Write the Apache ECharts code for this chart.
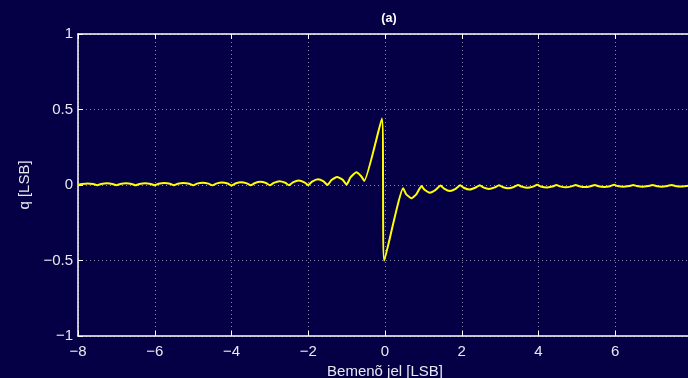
<!DOCTYPE html>
<html>
<head>
<meta charset="utf-8">
<script src="https://cdn.jsdelivr.net/npm/echarts@6/dist/echarts.min.js"></script>
<style>
html,body{margin:0;padding:0;background:#050046;}
#c{width:688px;height:378px;}
</style>
</head>
<body>
<div id="c"></div>
<script>
var xTicks = [-8, -6, -4, -2, 0, 2, 4, 6, 8];
var yTicks = [-1, -0.5, 0, 0.5, 1];

var leftTail = [
  [-8.00, 0.002], [-7.90, 0.006], [-7.75, 0.010], [-7.60, 0.006],
  [-7.50, -0.001], [-7.40, 0.006], [-7.25, 0.011], [-7.10, 0.007],
  [-7.00, -0.001], [-6.90, 0.007], [-6.75, 0.011], [-6.60, 0.007],
  [-6.50, -0.002], [-6.40, 0.007], [-6.25, 0.012], [-6.10, 0.007],
  [-6.00, -0.002], [-5.90, 0.008], [-5.75, 0.013], [-5.60, 0.008],
  [-5.50, -0.002], [-5.40, 0.008], [-5.25, 0.013], [-5.10, 0.008],
  [-5.00, -0.002], [-4.90, 0.009], [-4.75, 0.015], [-4.60, 0.009],
  [-4.50, -0.002], [-4.40, 0.009], [-4.25, 0.016], [-4.10, 0.010],
  [-4.00, -0.003], [-3.90, 0.010], [-3.75, 0.018], [-3.60, 0.011],
  [-3.50, -0.002], [-3.40, 0.012], [-3.25, 0.021], [-3.10, 0.013],
  [-3.00, -0.002], [-2.90, 0.014], [-2.75, 0.025], [-2.60, 0.015],
  [-2.50, -0.001], [-2.40, 0.017], [-2.25, 0.029], [-2.10, 0.018],
  [-2.00, -0.001], [-1.90, 0.022], [-1.75, 0.038], [-1.60, 0.024],
  [-1.50, 0.000], [-1.40, 0.031], [-1.25, 0.053], [-1.10, 0.034],
  [-1.00, 0.002], [-0.90, 0.050], [-0.75, 0.084], [-0.62, 0.058]
];

var centerPulse = [
  [-0.54, 0.027], [-0.08, 0.440], [-0.02, -0.500], [0.475, -0.022]
];

var rightTail = [
  [0.55, -0.060], [0.69, -0.088], [0.82, -0.060], [0.95, -0.007],
  [1.03, -0.032], [1.17, -0.051], [1.32, -0.032], [1.45, -0.004],
  [1.54, -0.024], [1.69, -0.040], [1.84, -0.025], [1.96, -0.002],
  [2.05, -0.018], [2.20, -0.030], [2.35, -0.018], [2.47, -0.001],
  [2.56, -0.016], [2.71, -0.026], [2.86, -0.016], [2.97, -0.001],
  [3.06, -0.013], [3.21, -0.022], [3.36, -0.013], [3.47, 0.000],
  [3.56, -0.011], [3.71, -0.019], [3.86, -0.011], [3.97, 0.001],
  [4.06, -0.010], [4.21, -0.017], [4.36, -0.010], [4.47, 0.000],
  [4.56, -0.009], [4.71, -0.015], [4.86, -0.009], [4.97, 0.000],
  [5.06, -0.008], [5.21, -0.014], [5.36, -0.008], [5.47, 0.000],
  [5.56, -0.008], [5.71, -0.013], [5.86, -0.008], [5.97, 0.001],
  [6.06, -0.007], [6.21, -0.012], [6.36, -0.007], [6.47, 0.000],
  [6.56, -0.007], [6.71, -0.012], [6.86, -0.007], [6.97, 0.000],
  [7.06, -0.006], [7.21, -0.011], [7.36, -0.006], [7.47, 0.000],
  [7.56, -0.006], [7.71, -0.010], [7.86, -0.006], [8.00, -0.001]
];

var qData = leftTail.concat(centerPulse, rightTail);

function minusFmt(v) {
  return String(v).replace('-', '\u2212');
}

var FONT = '"Liberation Sans", Arial, Helvetica, sans-serif';
var gridLine = { show: true, lineStyle: { color: 'rgba(190,190,215,0.7)', type: [1, 3], width: 1 } };

var chart = echarts.init(document.getElementById('c'), null, { renderer: 'canvas' });
chart.setOption({
  backgroundColor: '#050046',
  animation: false,
  title: {
    text: '(a)',
    left: 384, top: 7,
    textAlign: 'center',
    textStyle: { color: '#ffffff', fontSize: 12.5, fontWeight: 'bold', fontFamily: FONT }
  },
  grid: { left: 78, right: -4, top: 34, bottom: 42, containLabel: false, outerBoundsMode: 'none' },
  xAxis: [{
    type: 'value', min: -8, max: 8, interval: 2,
    name: 'Bemen\u00f5 jel [LSB]', nameLocation: 'middle', nameGap: 25,
    nameTextStyle: { color: '#e8e8f0', fontSize: 15, fontFamily: FONT },
    axisLine: { show: true, onZero: false, lineStyle: { color: '#ffffff', width: 1.5 } },
    axisTick: { show: true, inside: true, length: 5, lineStyle: { color: '#ffffff' } },
    axisLabel: { color: '#e8e8f0', fontSize: 15, fontFamily: FONT, margin: 8, formatter: minusFmt, showMaxLabel: true },
    splitLine: gridLine
  }, {
    type: 'value', min: -8, max: 8, interval: 2, position: 'top',
    axisLine: { show: true, onZero: false, lineStyle: { color: '#ffffff', width: 1.5 } },
    axisTick: { show: true, inside: true, length: 5, lineStyle: { color: '#ffffff' } },
    axisLabel: { show: false },
    splitLine: { show: false }
  }],
  yAxis: [{
    type: 'value', min: -1, max: 1, interval: 0.5,
    name: 'q [LSB]', nameLocation: 'middle', nameGap: 45, nameRotate: 90,
    nameTextStyle: { color: '#e8e8f0', fontSize: 15, fontFamily: FONT },
    axisLine: { show: true, onZero: false, lineStyle: { color: '#ffffff', width: 1.5 } },
    axisTick: { show: true, inside: true, length: 5, lineStyle: { color: '#ffffff' } },
    axisLabel: { color: '#e8e8f0', fontSize: 15, fontFamily: FONT, margin: 5, formatter: minusFmt },
    splitLine: gridLine
  }],
  series: [{
    type: 'line',
    data: qData,
    xAxisIndex: 0,
    yAxisIndex: 0,
    showSymbol: false,
    smooth: 0.15,
    lineStyle: { color: '#ffff00', width: 2 },
    clip: true
  }]
});
</script>
</body>
</html>
